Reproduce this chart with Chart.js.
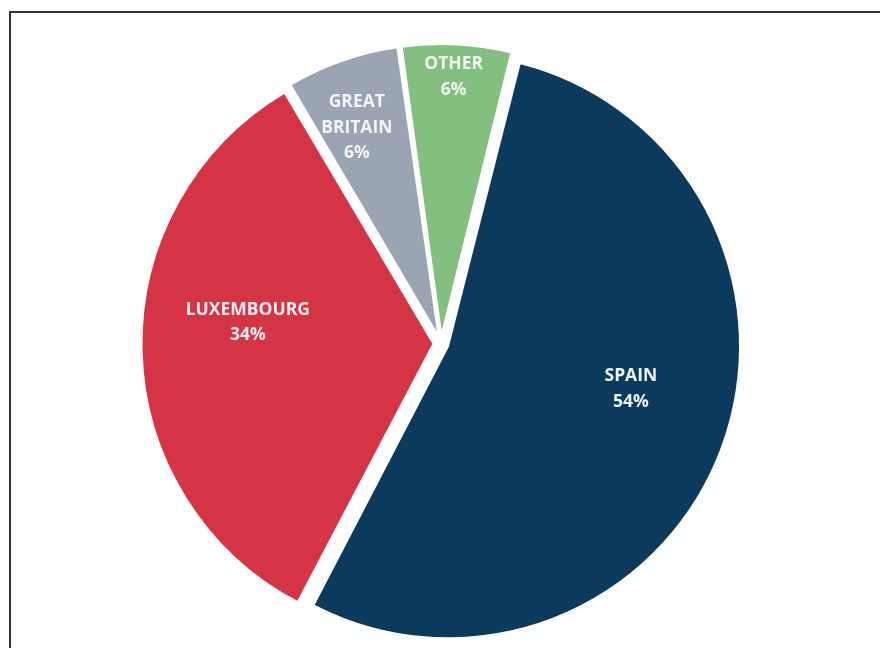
<!DOCTYPE html>
<html>
<head>
<meta charset="utf-8">
<script src="https://cdn.jsdelivr.net/npm/chart.js@4.4.1/dist/chart.umd.min.js"></script>
<style>
  html, body { margin: 0; padding: 0; background: #fff; overflow: hidden; }
  #frame {
    position: absolute; left: 9px; top: 11px; width: 900px; height: 680px;
    border-left: 2px solid #333; border-top: 2px solid #333;
  }
  #chart { position: absolute; left: 0; top: 0; }
</style>
</head>
<body>
<div id="frame"></div>
<canvas id="chart" width="880" height="648"></canvas>
<script>
const countries = ["SPAIN", "LUXEMBOURG", "GREAT BRITAIN", "OTHER"];
const shares = [53.8, 33.8, 6.3, 6.1];
const sliceColors = ["#0c3a5d", "#d43443", "#9ba4b3", "#83c07f"];

// label lines, as shown in the picture
const labelLines = [
  ["SPAIN", "54%"],
  ["LUXEMBOURG", "34%"],
  ["GREAT", "BRITAIN", "6%"],
  ["OTHER", "6%"],
];

// Chart.js grows the radius of exploded slices; keep every slice on the
// same radius like the original chart
const evenRadius = {
  id: "evenRadius",
  afterDatasetsUpdate(chart) {
    const meta = chart.getDatasetMeta(0);
    const base = meta.controller.outerRadius;
    meta.data.forEach((arc) => {
      const off = (arc.options.offset || 0) / 4;
      const fix = 1 - Math.sin(Math.min(Math.PI, arc.circumference || 0));
      arc.outerRadius = base - off * fix;
    });
  },
};

const sliceLabels = {
  id: "sliceLabels",
  afterDatasetsDraw(chart, args, opts) {
    const ctx = chart.ctx;
    const meta = chart.getDatasetMeta(0);
    const R = meta.controller.outerRadius;
    ctx.save();
    ctx.font = opts.font;
    ctx.textAlign = "center";
    ctx.textBaseline = "middle";
    meta.data.forEach((arc, i) => {
      const { x, y, startAngle, endAngle } = arc;
      const half = (startAngle + endAngle) / 2;
      const shift = (arc.options.offset || 0) / 4;
      const ox = x + Math.cos(half) * shift;
      const oy = y + Math.sin(half) * shift;
      const mid = half + (opts.nudge[i] * Math.PI) / 180;
      const r = R * opts.radius[i];
      const cx = ox + Math.cos(mid) * r;
      const cy = oy + Math.sin(mid) * r;
      const lines = labelLines[i];
      const top = cy - ((lines.length - 1) * opts.lineHeight) / 2;
      ctx.fillStyle = opts.colors[i];
      lines.forEach((t, j) => ctx.fillText(t, cx, top + j * opts.lineHeight));
    });
    ctx.restore();
  },
};

new Chart(document.getElementById("chart"), {
  type: "pie",
  data: {
    labels: countries,
    datasets: [
      {
        data: shares,
        backgroundColor: sliceColors,
        borderColor: "#ffffff",
        borderWidth: 2,
        offset: 30,
        hoverOffset: 0,
      },
    ],
  },
  options: {
    responsive: false,
    animation: false,
    rotation: 14,
    radius: 292,
    layout: { padding: { top: 39, bottom: 0, left: 2, right: 0 } },
    events: [],
    plugins: {
      legend: { display: false },
      tooltip: { enabled: false },
      sliceLabels: {
        font: "bold 17.5px 'Open Sans'",
        lineHeight: 25.5,
        radius: [0.643, 0.64, 0.767, 0.888],
        nudge: [-7.7, 8, -2.1, -0.3],
        colors: ["#f2f4f7", "#f9eef0", "#f4f5f7", "#f2f8f1"],
      },
    },
  },
  plugins: [evenRadius, sliceLabels],
});
</script>
</body>
</html>
